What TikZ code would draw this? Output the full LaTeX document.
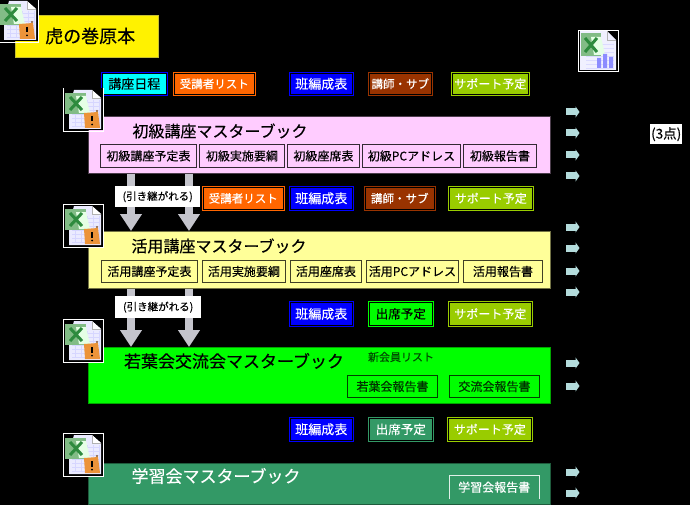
\documentclass[tikz,border=0pt]{standalone}
\usepackage{fontspec}
\setmainfont[FakeBold=0.25]{Noto Sans CJK JP}
\usetikzlibrary{arrows.meta}
\definecolor{kCyan}{HTML}{00FFFF}
\definecolor{kOrange}{HTML}{FF6600}
\definecolor{kBlue}{HTML}{0000FF}
\definecolor{kBrown}{HTML}{993300}
\definecolor{kLime}{HTML}{99CC00}
\definecolor{kPink}{HTML}{FFCCFF}
\definecolor{kCream}{HTML}{FFFF99}
\definecolor{kGreen}{HTML}{00FF00}
\definecolor{kSea}{HTML}{339966}
\definecolor{kArrow}{HTML}{C4C4CC}
\definecolor{kSmall}{HTML}{B4DCDC}
\definecolor{kXl}{HTML}{82BC86}
\definecolor{kXd}{HTML}{2E8B3E}
\newcommand{\fs}[1]{\fontsize{#1}{#1}\selectfont}
\tikzset{
  x=1pt,y=-1pt,
  tabbox/.style 2 args={rectangle,inner sep=0,draw=#1,double=black,double distance=0.7pt,line width=0.6pt,fill=#2},
  master/.style={rectangle,inner sep=0,line width=0.8pt},
  sheet/.style={rectangle,inner sep=0,line width=0.9pt,draw=#1,fill=none},
  notch/.style={black,line width=5pt},
  bigarrow/.style={kArrow,line width=8pt,-{Triangle[width=21pt,length=17pt]}},
  carried/.style={rectangle,inner sep=0,fill=white,text=black,font=\fs{10.5}},
  smallarrow/.style={kSmall,line width=7pt,-{Triangle[width=11pt,length=4pt]}},
  xlbase/.pic={
    \draw[white,line width=0.8pt] (0,0) rectangle (40,43);
    \fill[black] (0.5,0.5) rectangle (39.5,42.5);
    \fill[white!92!blue] (11,2) -- (29,2) -- (38,10) -- (38,41) -- (6,41) -- (6,20) -- cycle;
    \fill[white] (29,2) -- (29,10) -- (38,10) -- cycle;
    \draw[black!30,line width=0.4pt] (29,2) -- (29,10) -- (38,10);
    \foreach \yy in {14,18,...,38} \draw[blue!16,line width=0.5pt] (9,\yy) -- (36,\yy);
    \foreach \xx in {12,18,...,36} \draw[blue!16,line width=0.5pt] (\xx,12) -- (\xx,39);
    \fill[kXl] (2,5) rectangle (23,26);
    \fill[white!90!green] (13,8) -- (23,8) -- (27,25) -- (16,25) -- cycle;
    \draw[kXd,line width=3pt] (7,9) -- (19,22);
    \draw[kXd,line width=3pt] (19,9) -- (7,22);
  },
  xlflag/.pic={
    \fill[orange!65!brown!85!white] (21,25) -- (35,24) -- (37,40) -- (22,40) -- cycle;
    \fill[brown!70!black] (34,23) circle (1.2);
    \draw[black,line width=1.6pt] (29,28) -- (29,33.5);
    \fill[black] (29,36.5) circle (1);
  },
  xlchart/.pic={
    \draw[white,line width=0.8pt] (0,0) rectangle (40,41);
    \fill[white!94!blue] (2,1) -- (29,1) -- (38,10) -- (38,40) -- (2,40) -- cycle;
    \draw[black!30,line width=0.4pt] (29,1) -- (29,10) -- (38,10);
    \foreach \yy in {14,18,...,38} \draw[blue!14,line width=0.5pt] (8,\yy) -- (36,\yy);
    \fill[kXl] (3,3) rectangle (23,26);
    \fill[white!90!green] (13,7) -- (23,7) -- (27,25) -- (16,25) -- cycle;
    \draw[kXd,line width=3pt] (7,8) -- (19,22);
    \draw[kXd,line width=3pt] (19,8) -- (7,22);
    \fill[blue!45!white] (19,28) rectangle (23,38) (25,24) rectangle (29,38) (31,27) rectangle (35,38);
  },
}
\begin{document}
\begin{tikzpicture}
\useasboundingbox[fill=black] (0,0) rectangle (690,505);

% master boxes
\node[master,fill=yellow,draw=yellow!75!black,minimum width=143pt,minimum height=42pt,anchor=north west] (genpon) at (15,15) {};
\node[anchor=west,inner sep=0,font=\fs{18},text=black] (genpont) at (45,36) {虎の巻原本};

\node[master,fill=kPink,draw=black!70!kPink,minimum width=462pt,minimum height=57pt,anchor=north west] (pink) at (88,116) {};
\node[master,fill=kCream,draw=black!55!kCream,minimum width=462pt,minimum height=57pt,anchor=north west] (cream) at (88,231) {};
\node[master,fill=kGreen,draw=black!35!kGreen,minimum width=462pt,minimum height=56pt,anchor=north west] (lime) at (88,347) {};
\node[master,fill=kSea,draw=black!40!kSea,minimum width=462pt,minimum height=41pt,anchor=north west] (sea) at (88,463) {};

\node[font=\fs{16},text=black,anchor=center] (pinkt) at (220,131) {初級講座マスターブック};
\node[font=\fs{16},text=black,anchor=center] (creamt) at (219,246) {活用講座マスターブック};
\node[font=\fs{17},text=black,anchor=center] (limet) at (234,361) {若葉会交流会マスターブック};
\node[font=\fs{11},text=black!70!kGreen,anchor=center] (limex) at (401,357) {新会員リスト};
\node[font=\fs{17},text=white,anchor=center] (seat) at (216,476) {学習会マスターブック};

% sheets
\def\SH#1#2#3#4#5#6#7#8{\node[sheet=#6,text=#7,font=\fs{#8},minimum width=#3pt-#2pt,minimum height=#5pt-#4pt,anchor=north west] (#1) at (#2,#4)}
\SH{p1}{100}{196}{144}{167}{black!80!kPink}{black}{12} {初級講座予定表};
\SH{p2}{199}{284}{144}{167}{black!80!kPink}{black}{12} {初級実施要綱};
\SH{p3}{287}{359}{144}{167}{black!80!kPink}{black}{12} {初級座席表};
\SH{p4}{362}{460}{144}{167}{black!80!kPink}{black}{12} {初級PCアドレス};
\SH{p5}{463}{536}{144}{167}{black!80!kPink}{black}{12} {初級報告書};
\SH{c1}{101}{197}{260}{282}{black!75!kCream}{black}{12} {活用講座予定表};
\SH{c2}{202}{285}{260}{282}{black!75!kCream}{black}{12} {活用実施要綱};
\SH{c3}{290}{361}{260}{282}{black!75!kCream}{black}{12} {活用座席表};
\SH{c4}{366}{458}{260}{282}{black!75!kCream}{black}{12} {活用PCアドレス};
\SH{c5}{463}{542}{260}{282}{black!75!kCream}{black}{12} {活用報告書};
\SH{l1}{347}{437}{375}{397}{black!75!kGreen}{black!80!kGreen}{12} {若葉会報告書};
\SH{l2}{449}{539}{375}{397}{black!75!kGreen}{black!80!kGreen}{12} {交流会報告書};
\node[rectangle,inner sep=0,text=white,font=\fs{12},minimum width=90pt,minimum height=24pt,anchor=north west] (s1) at (449,475) {学習会報告書};
\draw[white!85!kSea,line width=0.8pt] (s1.south west) -- (s1.north west) -- (s1.north east) -- (s1.south east);

% tabs, row by row
\def\TAB#1#2#3#4#5#6#7{\node[tabbox={#6}{#7},minimum width=#3pt-#2pt-1.3pt,minimum height=#5pt-#4pt-1.3pt,anchor=north west] (#1) at (#2+0.65,#4+0.65)}
\TAB{ra}{101}{167}{72}{95}{kBlue}{kCyan} {\fs{13}\color{black}講座日程};
\TAB{rb}{173}{255}{72}{95}{kOrange}{kOrange} {\fs{11.5}\color{white}受講者リスト};
\TAB{rc}{289}{353}{72}{95}{kBlue}{kBlue} {\fs{13}\color{white}班編成表};
\TAB{rd}{368}{432}{72}{95}{kBrown}{kBrown} {\fs{11.5}\color{white}講師・サブ};
\TAB{re}{451}{529}{72}{95}{kLime}{kLime} {\fs{12}\color{white}サポート予定};

\TAB{sb}{202}{284}{186}{210}{kOrange}{kOrange} {\fs{11.5}\color{white}受講者リスト};
\TAB{sc}{289}{353}{186}{210}{kBlue}{kBlue} {\fs{13}\color{white}班編成表};
\TAB{sd}{364}{435}{186}{210}{kBrown}{kBrown} {\fs{11.5}\color{white}講師・サブ};
\TAB{se}{448}{533}{186}{210}{kLime}{kLime} {\fs{12}\color{white}サポート予定};

\TAB{tc}{289}{353}{301}{326}{kBlue}{kBlue} {\fs{13}\color{white}班編成表};
\TAB{td}{368}{433}{301}{326}{kGreen}{kGreen} {\fs{12.5}\color{black}出席予定};
\TAB{te}{448}{532}{301}{326}{kLime}{kLime} {\fs{12}\color{white}サポート予定};

\TAB{uc}{289}{353}{417}{441}{kBlue}{kBlue} {\fs{13}\color{white}班編成表};
\TAB{ud}{368}{433}{417}{441}{kSea}{kSea} {\fs{12.5}\color{white}出席予定};
\TAB{ue}{447}{532}{417}{441}{kLime}{kLime} {\fs{12}\color{white}サポート予定};

% black connectors: only their cut into the tabs can be seen
\foreach \t/\m in {ra/pink,rb/pink,rc/pink,rd/pink,re/pink,sb/cream,sc/cream,sd/cream,se/cream,tc/lime,td/lime,te/lime,uc/sea,ud/sea,ue/sea}
  \draw[notch] ([yshift=-2pt]\t.south) -- (\t.south |- \m.north);

% grey arrows
\coordinate (xa) at (131,0);
\coordinate (xb) at (189,0);
\draw[bigarrow] (pink.south -| xa) -- (cream.north -| xa);
\draw[bigarrow] (pink.south -| xb) -- (cream.north -| xb);
\draw[bigarrow] (cream.south -| xa) -- (lime.north -| xa);
\draw[bigarrow] (cream.south -| xb) -- (lime.north -| xb);
\node[carried,minimum width=85pt,minimum height=21pt,anchor=north west] (k1) at (115,186) {(引き継がれる)};
\node[carried,minimum width=86pt,minimum height=22pt,anchor=north west] (k2) at (115,296) {(引き継がれる)};

% small arrows on the right
\foreach \n/\yy in {a1/112,a2/133,a3/155,a4/176,a5/227,a6/248,a7/271,a8/292,a9/363,a10/386,a11/472,a12/493}{
  \coordinate (\n) at (566,\yy);
  \coordinate (\n e) at (579.5,\yy);
  \draw[smallarrow] (\n) -- (\n e);
}

% count
\node[rectangle,inner sep=0,fill=white,text=black,font=\fs{13.5},minimum width=32pt,minimum height=20pt,anchor=north west] (cnt) at (650,124) {(3点)};

% icons
\pic at (-2,-1) {xlbase};
\pic at (-2,-1) {xlflag};
\pic at (63,88) {xlbase};
\pic at (63,88) {xlflag};
\pic at (63,204) {xlbase};
\pic at (63,204) {xlflag};
\pic at (63,319) {xlbase};
\pic at (63,319) {xlflag};
\pic at (63,433) {xlbase};
\pic at (63,433) {xlflag};
\pic at (578,30) {xlchart};
\end{tikzpicture}
\end{document}
